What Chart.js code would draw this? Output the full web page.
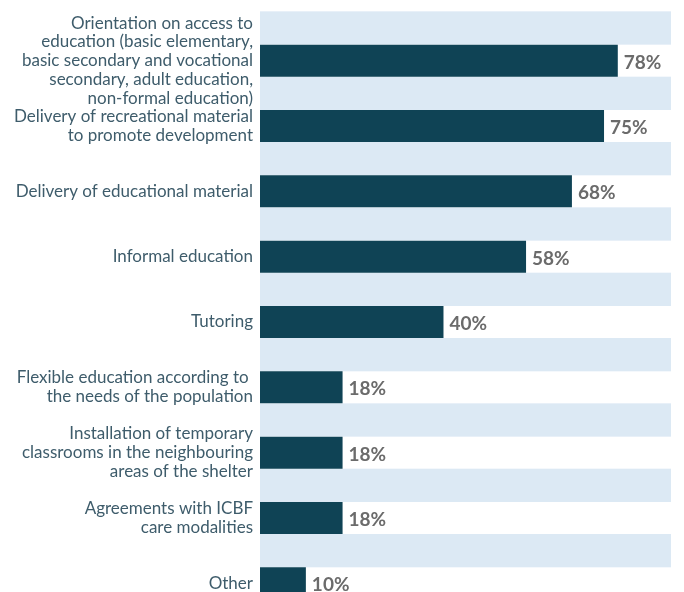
<!DOCTYPE html>
<html>
<head>
<meta charset="utf-8">
<script src="https://cdn.jsdelivr.net/npm/chart.js@4.4.1/dist/chart.umd.min.js"></script>
<style>
  html, body { margin: 0; padding: 0; background: #fff; overflow: hidden; }
  body { width: 684px; height: 592px; }
  canvas { display: block; }
</style>
</head>
<body>
<canvas id="chart" width="684" height="616"></canvas>
<script>
// categories, top to bottom
const categories = [
    ['Orientation on access to', 'education (basic elementary,', 'basic secondary and vocational', 'secondary, adult education,', 'non-formal education)'],
    ['Delivery of recreational material', 'to promote development'],
    'Delivery of educational material',
    'Informal education',
    'Tutoring',
    ['Flexible education according to ', 'the needs of the population'],
    ['Installation of temporary', 'classrooms in the neighbouring', 'areas of the shelter'],
    ['Agreements with ICBF', 'care modalities'],
    'Other'
];
// share of shelters, %
const shares = [78, 75, 68, 58, 40, 18, 18, 18, 10];
const axisMax = 89.6;

const barColor = '#0f4355';
const bandColor = '#dce9f4';
const labelColor = '#3e5c6b';
const valueColor = '#6b6b6b';
const fontFamily = 'Lato, "Open Sans", sans-serif';

// light blue band in the gap above every bar
const bandPlugin = {
    id: 'bands',
    beforeDatasetsDraw(chart) {
        const ctx = chart.ctx;
        const x = chart.scales.x;
        const y = chart.scales.y;
        const pitch = y.getPixelForValue(1) - y.getPixelForValue(0);
        ctx.save();
        ctx.fillStyle = bandColor;
        chart.getDatasetMeta(0).data.forEach(function (bar) {
            const h = bar.height;
            const top = bar.y - h / 2;
            ctx.fillRect(x.getPixelForValue(0), top - (pitch - h),
                x.getPixelForValue(axisMax) - x.getPixelForValue(0), pitch - h);
        });
        ctx.restore();
    }
};

// percentage next to each bar
const valuePlugin = {
    id: 'values',
    afterDatasetsDraw(chart) {
        const ctx = chart.ctx;
        ctx.save();
        ctx.fillStyle = valueColor;
        ctx.font = 'bold 19px ' + fontFamily;
        ctx.textAlign = 'left';
        ctx.textBaseline = 'middle';
        chart.getDatasetMeta(0).data.forEach(function (bar, i) {
            ctx.fillText(shares[i] + '%', bar.x + 6, bar.y + 2);
        });
        ctx.restore();
    }
};

new Chart(document.getElementById('chart'), {
    type: 'bar',
    data: {
        labels: categories,
        datasets: [{
            data: shares,
            backgroundColor: barColor,
            barPercentage: 0.49,
            categoryPercentage: 1
        }]
    },
    options: {
        indexAxis: 'y',
        responsive: false,
        animation: false,
        layout: { padding: { top: 28, right: 13, bottom: 0, left: 0 } },
        plugins: {
            legend: { display: false },
            tooltip: { enabled: false }
        },
        scales: {
            x: {
                min: 0,
                max: axisMax,
                display: false
            },
            y: {
                grid: { display: false, drawTicks: false },
                border: { display: false },
                afterFit(scale) {
                    scale.width = 260;
                    // the tall first label must not squeeze the plot
                    scale.paddingTop = 0;
                    scale.paddingBottom = 0;
                },
                ticks: {
                    autoSkip: false,
                    color: labelColor,
                    padding: 7,
                    font: { family: fontFamily, size: 17, lineHeight: 1.1 }
                }
            }
        }
    },
    plugins: [bandPlugin, valuePlugin]
});
</script>
</body>
</html>
